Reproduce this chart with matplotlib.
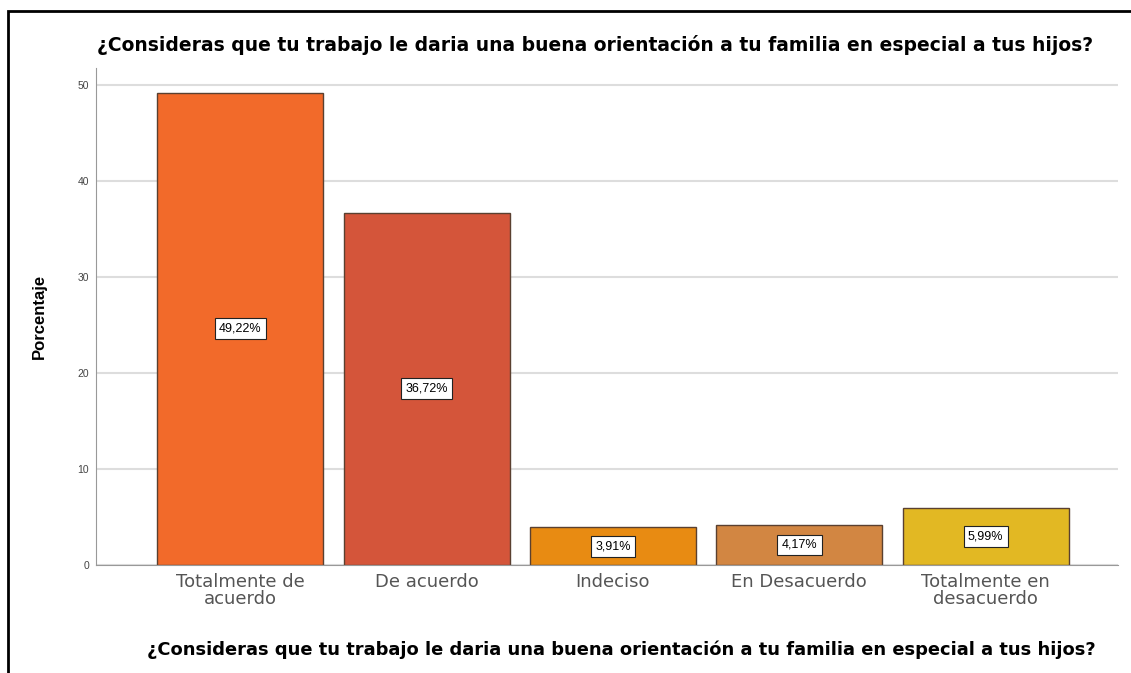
import matplotlib.pyplot as plt
from matplotlib.patches import Rectangle

plt.rcParams["font.family"] = ["Liberation Sans", "DejaVu Sans"]

# === DATA ===
CATEGORIES = ["Totalmente de\nacuerdo", "De acuerdo", "Indeciso",
              "En Desacuerdo", "Totalmente en\ndesacuerdo"]
PERCENTS = [49.22, 36.72, 3.91, 4.17, 5.99]
LABELS = ["49,22%", "36,72%", "3,91%", "4,17%", "5,99%"]
COLORS = ["#F26A2A", "#D4553A", "#E88B12", "#D28642", "#E2B823"]
YTICKS = [0, 10, 20, 30, 40, 50]
QUESTION = "¿Consideras que tu trabajo le daria una buena orientación a tu familia en especial a tus hijos?"

fig = plt.figure(figsize=(11.31, 6.73), dpi=100)
ax = fig.add_axes([0.0849, 0.1605, 0.9036, 0.7385])

x = range(len(CATEGORIES))
ax.bar(x, PERCENTS, width=0.89, color=COLORS, edgecolor="#5a4030", linewidth=1.0, zorder=2)

for xi, val, lab in zip(x, PERCENTS, LABELS):
    ax.text(xi, val / 2, lab, ha="center", va="center", fontsize=9, zorder=3,
            bbox=dict(boxstyle="square,pad=0.35", fc="white", ec="#222222", lw=0.8))

ax.set_xlim(-0.774, 4.71)
ax.set_ylim(0, 51.8)
ax.set_yticks(YTICKS)
ax.set_xticks(list(x))
ax.set_xticklabels(CATEGORIES, fontsize=13, color="#555555", linespacing=0.9,
                   family="DejaVu Sans")
ax.tick_params(axis="y", labelsize=7.5, colors="#444444", length=0, pad=5)
ax.tick_params(axis="x", length=0, pad=6)
ax.grid(axis="y", color="#dddddd", lw=1.5, zorder=0)

for side in ("top", "right"):
    ax.spines[side].set_visible(False)
for side in ("left", "bottom"):
    ax.spines[side].set_color("#999999")

ax.set_ylabel("Porcentaje", fontsize=12, fontweight="bold", labelpad=22)
fig.text(0.086, 0.933, QUESTION, fontsize=13.5, fontweight="bold", ha="left", va="center",
         family="DejaVu Sans")
fig.text(0.549, 0.034, QUESTION, fontsize=12.9, fontweight="bold", ha="center", va="center",
         family="DejaVu Sans")

# outer frame, clipped at right and bottom like the screenshot
fig.patches.append(Rectangle((8 / 1131, -0.1), 1.2, 0.1 + (673 - 11) / 673,
                             transform=fig.transFigure, fill=False, ec="black", lw=2))

fig.savefig("out.png", dpi=100)
